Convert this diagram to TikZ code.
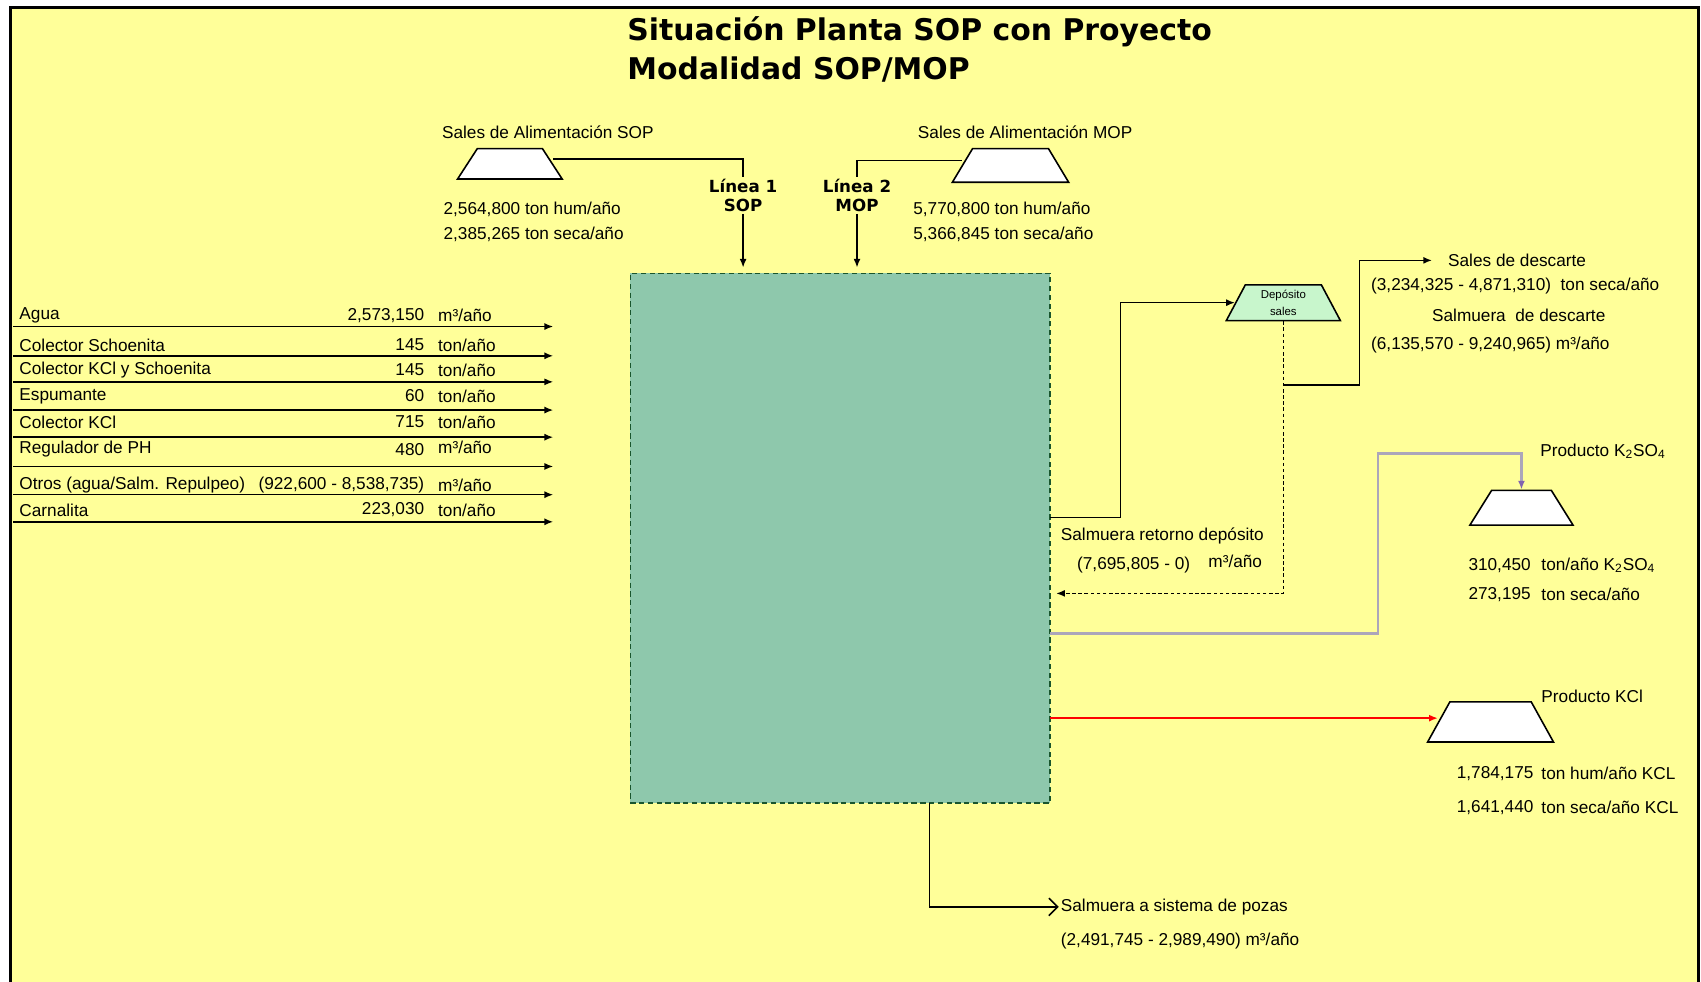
\documentclass[tikz,border=0pt]{standalone}
\usepackage{fontspec}
\setmainfont{Liberation Sans}
\newfontfamily\titlefont{DejaVu Sans}
\usepackage{xcolor}
\usepackage{tikz}
\usetikzlibrary{arrows.meta, shapes.geometric, positioning}

\definecolor{sheetyellow}{RGB}{255,255,153}
\definecolor{cellgreen}{RGB}{142,200,172}
\definecolor{celledge}{RGB}{25,85,45}
\definecolor{depgreen}{RGB}{200,246,204}
\definecolor{k2line}{RGB}{172,166,186}
\definecolor{k2tip}{RGB}{130,100,175}

\newcommand{\smalltxt}{\fontsize{9.8}{11.8}\selectfont}
\newcommand{\tinytxt}{\fontsize{6.5}{9.8}\selectfont}

\tikzset{
  txt/.style={font=\smalltxt, inner sep=1pt},
  titletxt/.style={font=\titlefont\bfseries\fontsize{17}{20}\selectfont, anchor=west, inner sep=0pt},
  linetxt/.style={font=\titlefont\bfseries\fontsize{9.5}{11}\selectfont, align=center, inner sep=1pt},
  hopper/.style={draw, fill=white, line width=0.9pt, trapezium},
  flow/.style={line width=0.9pt}
}

\begin{document}
\begin{tikzpicture}[x=0.021696cm, y=-0.021696cm, >={Latex[length=5pt,width=4pt]}]
  \useasboundingbox (0,0) rectangle (1568,905);
  \fill[white] (0,0) rectangle (1568,905);

  % sheet
  \coordinate (fBL) at (10,905);
  \coordinate (fTL) at (10,7);
  \coordinate (fTR) at (1566,7);
  \coordinate (fBR) at (1566,905);
  \fill[sheetyellow] (fBL) rectangle (fTR);
  \draw[line width=1.6pt] (fBL) -- (fTL) -- (fTR) -- (fBR);

  \node[titletxt] (title1) at (578,29) {Situación Planta SOP con Proyecto};
  \node[titletxt] (title2) at (578,64) {Modalidad SOP/MOP};

  % plant
  \node[draw=celledge, dash pattern=on 3pt off 2pt, fill=cellgreen, line width=0.9pt,
        minimum width=8.396cm, minimum height=10.588cm, inner sep=0pt]
      (box) at (774.5,496) {};

  % feed salts
  \node[hopper, inner xsep=0.651cm, inner ysep=0.304cm, trapezium angle=57]
      (sop) at (470,151) {};
  \node[hopper, inner xsep=0.759cm, inner ysep=0.336cm, trapezium angle=59]
      (mop) at (931.5,152.5) {};
  \node[txt] (sopname) at (505,122) {Sales de Alimentación SOP};
  \node[txt, anchor=west] (sophum) at (407,193) {2,564,800 ton hum/año};
  \node[txt, anchor=west] (sopseca) at (407,216) {2,385,265 ton seca/año};
  \node[txt] (mopname) at (945,122) {Sales de Alimentación MOP};
  \node[txt, anchor=west] (mophum) at (840,193) {5,770,800 ton hum/año};
  \node[txt, anchor=west] (mopseca) at (840,216) {5,366,845 ton seca/año};
  \node[linetxt] (lin1) at (685,180) {Línea 1\\SOP};
  \node[linetxt] (lin2) at (790,180) {Línea 2\\MOP};

  \draw[flow] ([yshift=0.1cm]sop.east) -| (lin1.north);
  \draw[flow] ([yshift=0.1cm]mop.west) -| (lin2.north);
  \draw[flow, ->, shorten >=0.1cm] (lin1.south) -- (lin1.south |- box.north);
  \draw[flow, ->, shorten >=0.1cm] (lin2.south) -- (lin2.south |- box.north);

  % reagents
  \coordinate (inTip) at (510,0);
  \node[txt, anchor=west] (agua) at (16,291) {Agua};
  \node[txt, anchor=east] (aguaval) at (393,291) {2,573,150};
  \node[txt, anchor=west] (aguaunit) at (402,291) {m³/año};
  \node[txt, anchor=west] (colsch) at (16,318) {Colector Schoenita};
  \node[txt, anchor=east] (colschval) at (393,318) {145};
  \node[txt, anchor=west] (colschunit) at (402,318) {ton/año};
  \node[txt, anchor=west] (colkclsch) at (16,341) {Colector KCl y Schoenita};
  \node[txt, anchor=east] (colkclschval) at (393,341) {145};
  \node[txt, anchor=west] (colkclschunit) at (402,341) {ton/año};
  \node[txt, anchor=west] (espum) at (16,365) {Espumante};
  \node[txt, anchor=east] (espumval) at (393,365) {60};
  \node[txt, anchor=west] (espumunit) at (402,365) {ton/año};
  \node[txt, anchor=west] (colkcl) at (16,389) {Colector KCl};
  \node[txt, anchor=east] (colkclval) at (393,389) {715};
  \node[txt, anchor=west] (colkclunit) at (402,389) {ton/año};
  \node[txt, anchor=west] (regph) at (16,414) {Regulador de PH};
  \node[txt, anchor=east] (regphval) at (393,414) {480};
  \node[txt, anchor=west] (regphunit) at (402,412) {m³/año};
  \node[txt, anchor=west] (otros) at (16,447) {Otros (agua/Salm. Repulpeo)};
  \node[txt, anchor=east] (otrosval) at (393,447) {(922,600 - 8,538,735)};
  \node[txt, anchor=west] (otrosunit) at (402,447) {m³/año};
  \node[txt, anchor=west] (carn) at (16,470) {Carnalita};
  \node[txt, anchor=east] (carnval) at (393,470) {223,030};
  \node[txt, anchor=west] (carnunit) at (402,470) {ton/año};

  \coordinate (in1) at (12,301);
  \coordinate (in2) at (12,328);
  \coordinate (in3) at (12,352);
  \coordinate (in4) at (12,378);
  \coordinate (in5) at (12,403);
  \coordinate (in6) at (12,430);
  \coordinate (in7) at (12,456);
  \coordinate (in8) at (12,481);
  \draw[flow, ->] (in1) -- (in1 -| inTip);
  \draw[flow, ->] (in2) -- (in2 -| inTip);
  \draw[flow, ->] (in3) -- (in3 -| inTip);
  \draw[flow, ->] (in4) -- (in4 -| inTip);
  \draw[flow, ->] (in5) -- (in5 -| inTip);
  \draw[flow, ->] (in6) -- (in6 -| inTip);
  \draw[flow, ->] (in7) -- (in7 -| inTip);
  \draw[flow, ->] (in8) -- (in8 -| inTip);

  % salt deposit and discard
  \node[hopper, fill=depgreen, text width=1.0cm, inner xsep=0.26cm, inner ysep=0.1cm,
        trapezium angle=62, align=center, font=\tinytxt]
      (dep) at (1183,279) {Depósito\\sales};
  \node[txt, anchor=west] (desc) at (1333,240) {Sales de descarte};
  \node[txt, anchor=west] (descseca) at (1262,264) {(3,234,325 - 4,871,310)\ \ ton seca/año};
  \node[txt] (salmdesc) at (1400,291) {Salmuera\ \ de descarte};
  \node[txt, anchor=west] (salmm3) at (1262,318) {(6,135,570 - 9,240,965) m³/año};
  \node[txt, anchor=west] (ret) at (976,494) {Salmuera retorno depósito};
  \node[txt, anchor=west] (retval) at (991,521) {(7,695,805 - 0)};
  \node[txt, anchor=west] (retunit) at (1112,517) {m³/año};

  \coordinate (outDep) at (968,477);
  \coordinate (kneeDep) at (1033,400);
  \coordinate (inRet) at (968,547);
  \coordinate (jDes) at (1183,355);
  \coordinate (kneeDes) at (1253,300);
  \draw[flow, ->] (outDep) -| (kneeDep) |- (dep.west);
  \draw[flow, dash pattern=on 2pt off 1.5pt, ->, shorten >=0.12cm] (dep.south) |- (inRet);
  \draw[flow, ->, shorten >=0.28cm] (jDes) -| (kneeDes) |- (desc.west);

  % products
  \node[hopper, inner xsep=0.597cm, inner ysep=0.347cm, trapezium angle=58]
      (k2so) at (1402.5,468) {};
  \node[txt, anchor=west] (k2name) at (1418,416) {Producto K\textsubscript{2}SO\textsubscript{4}};
  \node[txt, anchor=east] (k2val1) at (1413,521) {310,450};
  \node[txt, anchor=west] (k2unit1) at (1419,521) {ton/año K\textsubscript{2}SO\textsubscript{4}};
  \node[txt, anchor=east] (k2val2) at (1413,548) {273,195};
  \node[txt, anchor=west] (k2unit2) at (1419,548) {ton seca/año};

  \node[hopper, inner xsep=0.814cm, inner ysep=0.401cm, trapezium angle=61]
      (kcl) at (1374,665.5) {};
  \node[txt, anchor=west] (kclname) at (1419,642) {Producto KCl};
  \node[txt, anchor=west] (kclval1) at (1341,713) {1,784,175};
  \node[txt, anchor=west] (kclunit1) at (1419,713) {ton hum/año KCL};
  \node[txt, anchor=west] (kclval2) at (1341,744) {1,641,440};
  \node[txt, anchor=west] (kclunit2) at (1419,744) {ton seca/año KCL};

  \coordinate (outK) at (968,584);
  \coordinate (kneeK) at (1270,418);
  \coordinate (outKcl) at (968,662);
  \draw[k2line, line width=1.4pt, -{Latex[color=k2tip, length=5pt, width=4pt]}]
      (outK) -| (kneeK) -| (k2so.north);
  \draw[flow, red, ->] (outKcl) -- (outKcl -| kcl.west);

  % brine to ponds
  \node[txt, anchor=west] (pozas) at (976,836) {Salmuera a sistema de pozas};
  \node[txt, anchor=west] (pozasval) at (976,867) {(2,491,745 - 2,989,490) m³/año};
  \coordinate (outPoz) at (857,740);
  \draw[flow, -{Straight Barb[length=5pt]}] (outPoz) |- (pozas.west);
\end{tikzpicture}
\end{document}
